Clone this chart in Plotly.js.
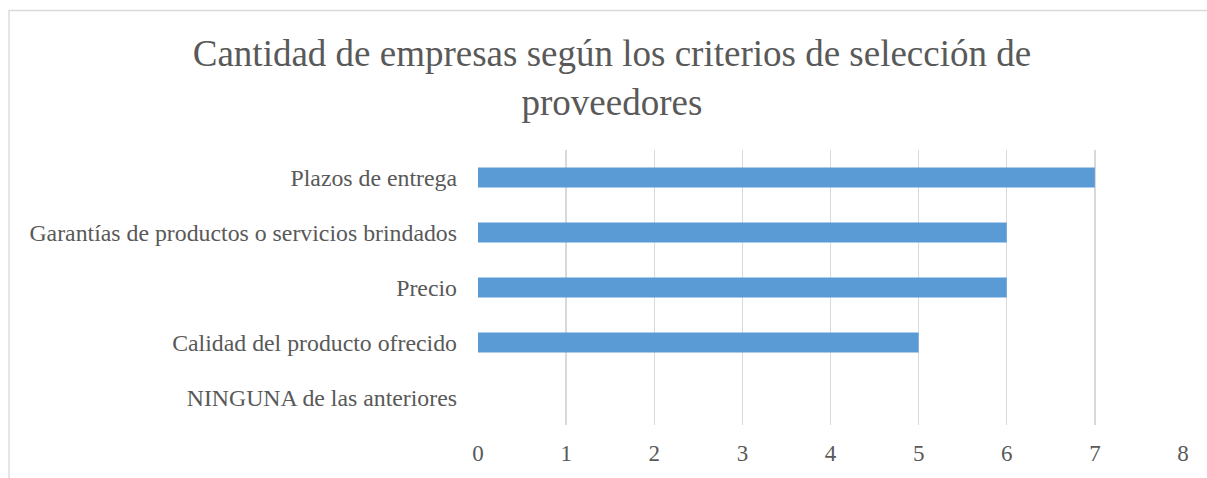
<!DOCTYPE html>
<html>
<head>
<meta charset="utf-8">
<script src="https://cdn.plot.ly/plotly-3.0.1.min.js"></script>
<style>html,body{margin:0;padding:0;background:#fff;}#chart{width:1207px;height:478px;}</style>
</head>
<body>
<div id="chart"></div>
<script>
const categories = [
  "NINGUNA de las anteriores",
  "Calidad del producto ofrecido",
  "Precio",
  "Garantías de productos o servicios brindados",
  "Plazos de entrega"
];
const values = [0, 5, 6, 6, 7];
const xTicks = [0, 1, 2, 3, 4, 5, 6, 7, 8];
const chartTitle = "Cantidad de empresas según los criterios de selección de<br>proveedores";

const serif = "Liberation Serif, Times New Roman, serif";
const textColor = "#595959";

const data = [{
  type: "bar",
  orientation: "h",
  y: categories,
  x: values,
  marker: {color: "#5B9BD5"},
  width: 0.36,
  hoverinfo: "x+y"
}];

const layout = {
  width: 1207,
  height: 478,
  margin: {l: 478, r: 24, t: 150, b: 53},
  paper_bgcolor: "#fff",
  plot_bgcolor: "#fff",
  showlegend: false,
  title: {
    text: chartTitle,
    font: {family: serif, size: 37, color: textColor},
    x: 0.507, xanchor: "center",
    y: 0.861, yanchor: "top", yref: "container"
  },
  xaxis: {
    range: [0, 8],
    tickvals: xTicks,
    ticktext: xTicks.map(String),
    showgrid: true,
    gridcolor: "#D9D9D9",
    gridwidth: 1.3,
    zeroline: false,
    showline: false,
    ticks: "",
    ticklabelstandoff: 12,
    tickfont: {family: serif, size: 23, color: textColor},
    fixedrange: true
  },
  yaxis: {
    type: "category",
    categoryorder: "array",
    categoryarray: categories,
    showgrid: false,
    zeroline: false,
    showline: false,
    ticks: "",
    ticklabelstandoff: 20,
    tickfont: {family: serif, size: 23.8, color: textColor},
    fixedrange: true
  },
  shapes: [{
    type: "rect",
    xref: "paper", yref: "paper",
    x0: (9 - 478) / 705, x1: 1.2,
    y0: -0.5, y1: (425 - 10.5) / 275,
    line: {color: "#D9D9D9", width: 1.3},
    fillcolor: "rgba(0,0,0,0)",
    layer: "below"
  }]
};

Plotly.newPlot("chart", data, layout, {displayModeBar: false, staticPlot: true});
</script>
</body>
</html>
